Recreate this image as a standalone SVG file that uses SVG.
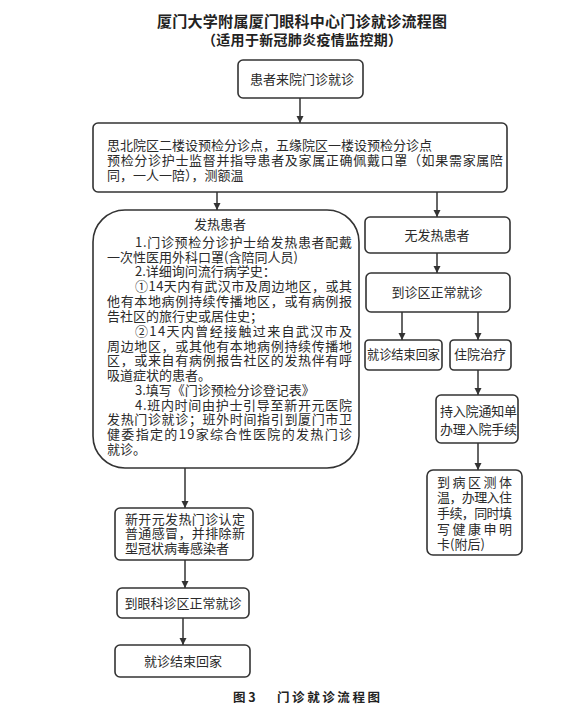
<svg xmlns="http://www.w3.org/2000/svg" width="588" height="718" viewBox="0 0 588 718">
<style>
.bx{fill:#fff;stroke:#333;stroke-width:1.6}
.t{font-family:"Noto Sans CJK SC","Noto Sans",sans-serif;font-size:13px;fill:#2a2a2a}
.c{text-anchor:middle}
.ttl{font-family:"Noto Sans CJK SC","Noto Sans",sans-serif;font-weight:bold;fill:#222;text-anchor:middle}
.ln{stroke:#333;stroke-width:1.5;fill:none;marker-end:url(#ah)}
</style>
<defs>
<marker id="ah" markerWidth="8" markerHeight="8" refX="7" refY="4" orient="auto" markerUnits="userSpaceOnUse">
<path d="M0,0.5 L7,4 L0,7.5 z" fill="#333"/>
</marker>
</defs>
<rect width="588" height="718" fill="#fff"/>
<g id="title">
<text class="ttl" font-size="15"><tspan x="302" y="27" textLength="290" lengthAdjust="spacing">厦门大学附属厦门眼科中心门诊就诊流程图</tspan><tspan x="302" y="45" font-size="14" textLength="200" lengthAdjust="spacing">（适用于新冠肺炎疫情监控期）</tspan></text>
</g>
<g id="connectors">
<line class="ln" x1="300" y1="98" x2="300" y2="123"/>
<line class="ln" x1="217" y1="192" x2="217" y2="210"/>
<line class="ln" x1="437" y1="192" x2="437" y2="217"/>
<line class="ln" x1="437" y1="253" x2="437" y2="273"/>
<line class="ln" x1="402" y1="312" x2="402" y2="340"/>
<line class="ln" x1="478" y1="312" x2="478" y2="340"/>
<line class="ln" x1="478" y1="370" x2="478" y2="395"/>
<line class="ln" x1="478" y1="443" x2="478" y2="470"/>
<line class="ln" x1="185" y1="468" x2="185" y2="508"/>
<line class="ln" x1="185" y1="560" x2="185" y2="588"/>
<line class="ln" x1="183" y1="618" x2="183" y2="645"/>
</g>
<g id="n1">
<rect class="bx" x="238" y="60" width="125" height="38" rx="5"/>
<text class="t c" x="302" y="84">患者来院门诊就诊</text>
</g>
<g id="n2">
<rect class="bx" x="93" y="123" width="414" height="69" rx="5"/>
<text class="t"><tspan x="107" y="150">思北院区二楼设预检分诊点，五缘院区一楼设预检分诊点</tspan><tspan x="107" y="165" textLength="396" lengthAdjust="spacing">预检分诊护士监督并指导患者及家属正确佩戴口罩（如果需家属陪</tspan><tspan x="107" y="180">同，一人一陪），测额温</tspan></text>
</g>
<g id="n3">
<rect class="bx" x="93" y="210" width="266" height="258" rx="32"/>
<text class="t"><tspan x="194" y="229">发热患者</tspan><tspan x="135" y="247" textLength="217" lengthAdjust="spacing">1.门诊预检分诊护士给发热患者配戴</tspan><tspan x="107" y="262">一次性医用外科口罩(含陪同人员)</tspan><tspan x="135" y="276">2.详细询问流行病学史：</tspan><tspan x="135" y="291" textLength="217" lengthAdjust="spacing">①14天内有武汉市及周边地区，或其</tspan><tspan x="107" y="306" textLength="245" lengthAdjust="spacing">他有本地病例持续传播地区，或有病例报</tspan><tspan x="107" y="321">告社区的旅行史或居住史；</tspan><tspan x="135" y="336" textLength="217" lengthAdjust="spacing">②14天内曾经接触过来自武汉市及</tspan><tspan x="107" y="351" textLength="245" lengthAdjust="spacing">周边地区，或其他有本地病例持续传播地</tspan><tspan x="107" y="365" textLength="245" lengthAdjust="spacing">区，或来自有病例报告社区的发热伴有呼</tspan><tspan x="107" y="380">吸道症状的患者。</tspan><tspan x="135" y="395">3.填写《门诊预检分诊登记表》</tspan><tspan x="135" y="410" textLength="217" lengthAdjust="spacing">4.班内时间由护士引导至新开元医院</tspan><tspan x="107" y="424" textLength="245" lengthAdjust="spacing">发热门诊就诊；班外时间指引到厦门市卫</tspan><tspan x="107" y="439" textLength="245" lengthAdjust="spacing">健委指定的19家综合性医院的发热门诊</tspan><tspan x="107" y="454">就诊。</tspan></text>
</g>
<g id="n4">
<rect class="bx" x="365" y="217" width="145" height="36" rx="5"/>
<text class="t c" x="437" y="240">无发热患者</text>
</g>
<g id="n5">
<rect class="bx" x="366" y="273" width="144" height="39" rx="5"/>
<text class="t c" x="437" y="297">到诊区正常就诊</text>
</g>
<g id="n6">
<rect class="bx" x="365" y="340" width="77" height="30" rx="4"/>
<text class="t" x="367" y="359" textLength="73" lengthAdjust="spacingAndGlyphs">就诊结束回家</text>
</g>
<g id="n7">
<rect class="bx" x="450" y="340" width="61" height="30" rx="4"/>
<text class="t c" x="480" y="359">住院治疗</text>
</g>
<g id="n8">
<rect class="bx" x="436" y="395" width="82" height="48" rx="5"/>
<text class="t"><tspan x="440" y="416" textLength="77" lengthAdjust="spacing">持入院通知单</tspan><tspan x="440" y="434" textLength="77" lengthAdjust="spacing">办理入院手续</tspan></text>
</g>
<g id="n9">
<rect class="bx" x="427" y="470" width="95" height="85" rx="6"/>
<text class="t"><tspan x="437" y="487" textLength="75" lengthAdjust="spacing">到病区测体</tspan><tspan x="437" y="502" textLength="75" lengthAdjust="spacing">温，办理入住</tspan><tspan x="437" y="518" textLength="75" lengthAdjust="spacing">手续，同时填</tspan><tspan x="437" y="534" textLength="75" lengthAdjust="spacing">写健康申明</tspan><tspan x="437" y="549">卡(附后)</tspan></text>
</g>
<g id="n10">
<rect class="bx" x="115" y="508" width="138" height="52" rx="5"/>
<text class="t"><tspan x="125" y="524" textLength="120" lengthAdjust="spacing">新开元发热门诊认定</tspan><tspan x="125" y="538" textLength="120" lengthAdjust="spacing">普通感冒，并排除新</tspan><tspan x="125" y="553">型冠状病毒感染者</tspan></text>
</g>
<g id="n11">
<rect class="bx" x="117" y="588" width="132" height="30" rx="5"/>
<text class="t c" x="183" y="608">到眼科诊区正常就诊</text>
</g>
<g id="n12">
<rect class="bx" x="115" y="645" width="135" height="32" rx="5"/>
<text class="t c" x="183" y="666">就诊结束回家</text>
</g>
<g id="caption">
<text class="ttl" font-size="12.5" style="text-anchor:start"><tspan x="233" y="702">图 3</tspan><tspan x="277" y="702" textLength="103" lengthAdjust="spacing">门诊就诊流程图</tspan></text>
</g>
</svg>
